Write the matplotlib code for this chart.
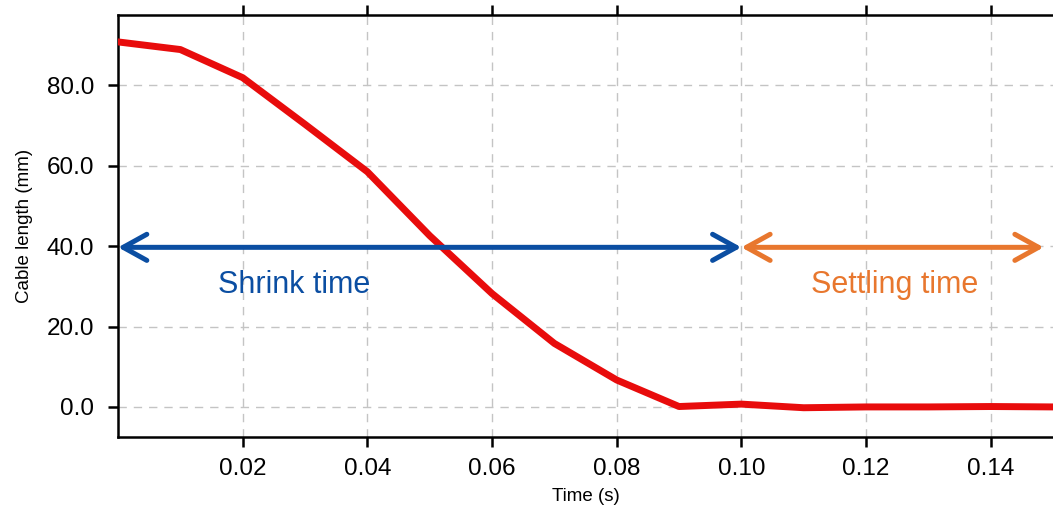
import matplotlib
matplotlib.use("Agg")
import matplotlib.pyplot as plt
from matplotlib.patches import FancyArrowPatch
from matplotlib.ticker import FormatStrFormatter

plt.rcParams['font.family'] = ['Liberation Sans', 'DejaVu Sans']

# 데이터
time_s = [0.00, 0.01, 0.02, 0.03, 0.04, 0.05, 0.06, 0.07, 0.08, 0.09,
          0.10, 0.11, 0.12, 0.13, 0.14, 0.15]
cable_mm = [90.8, 88.9, 81.9, 70.3, 58.5, 42.6, 28.2, 15.8, 6.7, 0.1,
            0.7, -0.2, 0.0, 0.0, 0.1, 0.0]
x_ticks = [0.02, 0.04, 0.06, 0.08, 0.10, 0.12, 0.14]
y_ticks = [0.0, 20.0, 40.0, 60.0, 80.0]

shrink_span = (0.0, 0.10)
settle_span = (0.10, 0.1485)
arrow_y = 39.7

fig = plt.figure(figsize=(10.53, 5.13), dpi=100)
ax = fig.add_axes([0.1121, 0.148, 0.8879, 0.8228])

ax.plot(time_s, cable_mm, color='#e80c0c', lw=5.0, solid_joinstyle='round', zorder=3)

ax.set_xlim(0, 0.15)
ax.set_ylim(-7.5, 97.5)
ax.set_xticks(x_ticks)
ax.set_yticks(y_ticks)
ax.xaxis.set_major_formatter(FormatStrFormatter('%.2f'))
ax.yaxis.set_major_formatter(FormatStrFormatter('%.1f'))
ax.grid(True, color='#c4c4c4', linestyle=(0, (6, 5)), lw=1.0)
ax.set_axisbelow(True)

for side in ['left', 'bottom', 'top']:
    ax.spines[side].set_linewidth(1.8)
ax.spines['right'].set_visible(False)
ax.tick_params(axis='both', direction='out', length=7, width=1.8, labelsize=17.5)
ax.tick_params(axis='x', top=True, pad=8)
ax.tick_params(axis='y', pad=10)

ax.set_xlabel('Time (s)', fontsize=13.5, labelpad=6)
ax.set_ylabel('Cable length (mm)', fontsize=13.5, labelpad=10)

# 화살표
def span_arrow(x0, x1, color):
    arr = FancyArrowPatch((x0, arrow_y), (x1, arrow_y),
                          arrowstyle='<->,head_length=0.85,head_width=0.47',
                          mutation_scale=20, color=color, lw=3.6,
                          capstyle='round', joinstyle='round', zorder=4,
                          shrinkA=0, shrinkB=0, clip_on=False)
    ax.add_patch(arr)

span_arrow(*shrink_span, '#0b4ea2')
span_arrow(*settle_span, '#e8772e')

ax.text(0.0282, 30.3, 'Shrink time', color='#0b4ea2', fontsize=22,
        ha='center', va='center')
ax.text(0.1246, 30.3, 'Settling time', color='#e8772e', fontsize=22,
        ha='center', va='center')

fig.savefig('out.png', dpi=100)
